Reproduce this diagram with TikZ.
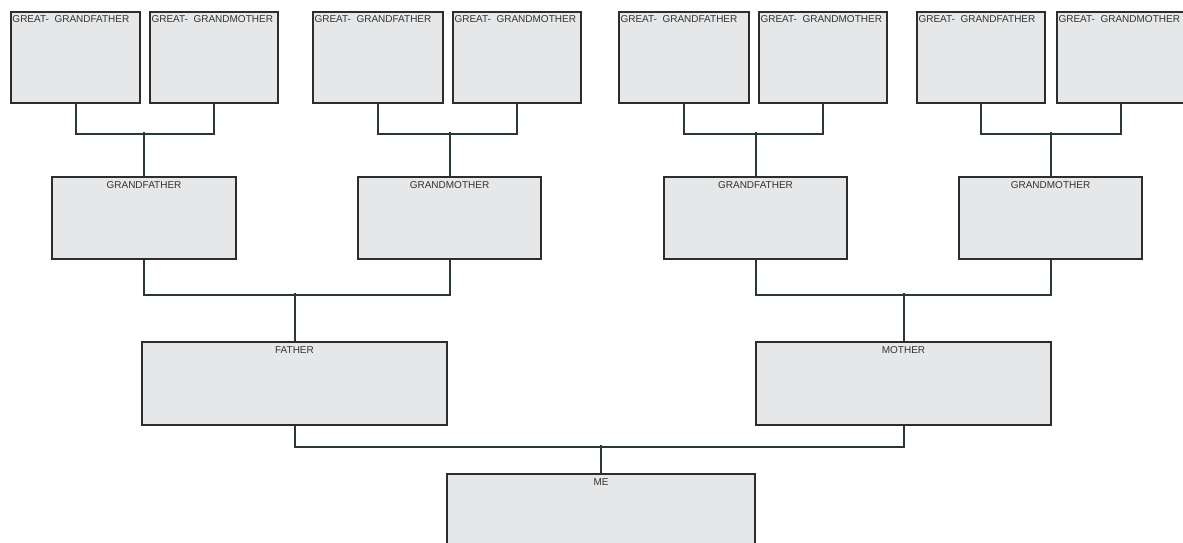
\documentclass[tikz,border=0pt]{standalone}
\usepackage{fontspec}
\setmainfont{Liberation Sans}
\usepackage{xcolor}
\usepackage{tikz}

\definecolor{boxfill}{HTML}{E6E7E8}
\definecolor{boxline}{HTML}{2D2D2D}
\definecolor{linkline}{HTML}{2A3838}
\definecolor{kincol}{HTML}{333333}

\tikzset{
    person/.style={draw=boxline, line width=2pt, fill=boxfill, rectangle, anchor=north west, inner sep=0pt},
    link/.style={draw=linkline, line width=2pt},
    kintext/.style={font=\fontsize{10}{12}\selectfont, text=kincol, inner sep=0pt},
}

\begin{document}
\begin{tikzpicture}[x=1pt,y=-1pt]
    \useasboundingbox (0,0) rectangle (1183,542);

    % Great-grandparents, top row
    \foreach \n/\x/\w/\who in {ggf1/10/129/GRANDFATHER, ggm1/149/128/GRANDMOTHER,
                               ggf2/312/130/GRANDFATHER, ggm2/452/128/GRANDMOTHER,
                               ggf3/618/130/GRANDFATHER, ggm3/758/128/GRANDMOTHER,
                               ggf4/916/128/GRANDFATHER, ggm4/1056/127/GRANDMOTHER} {
        \node[person, minimum width=\w pt, minimum height=91pt] (\n) at (\x,11) {};
        \node[kintext, anchor=north west, xshift=2.3pt, yshift=-4.8pt] (\n-l) at (\n.north west) {GREAT-\ \ \who};
    }

    % Grandparents, fathers and mothers, and me
    \foreach \n/\x/\y/\w/\h/\who in {gf1/51/176/184/82/GRANDFATHER, gm1/357/176/183/82/GRANDMOTHER,
                                     gf2/663/176/183/82/GRANDFATHER, gm2/958/176/183/82/GRANDMOTHER,
                                     father/141/341/305/83/FATHER, mother/755/341/295/83/MOTHER,
                                     me/446/473/308/100/ME} {
        \node[person, minimum width=\w pt, minimum height=\h pt] (\n) at (\x,\y) {};
        \node[kintext, anchor=north, yshift=-5.5pt] (\n-l) at (\n.north) {\who};
    }

    % Links from each couple down to their child
    \foreach \a/\b/\c/\down/\up in {ggf1/ggm1/gf1/30/44, ggf2/ggm2/gm1/30/44,
                                    ggf3/ggm3/gf2/30/44, ggf4/ggm4/gm2/30/44,
                                    gf1/gm1/father/35/48, gf2/gm2/mother/35/48,
                                    father/mother/me/21/28} {
        \draw[link] (\a.south) -- ++(0,\down) -| (\b.south);
        \draw[link] (\c.north) -- ++(0,-\up);
    }
\end{tikzpicture}
\end{document}
